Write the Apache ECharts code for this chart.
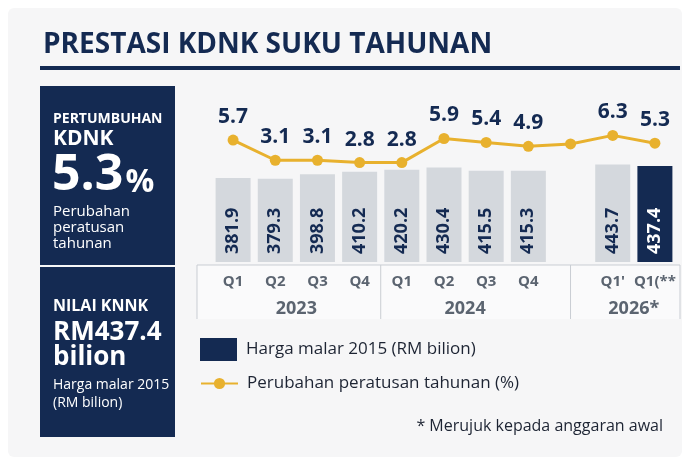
<!DOCTYPE html>
<html>
<head>
<meta charset="utf-8">
<script src="https://cdn.jsdelivr.net/npm/echarts@6/dist/echarts.min.js"></script>
<style>
html,body{margin:0;padding:0;background:#ffffff;}
#c{width:688px;height:463px;}
</style>
</head>
<body>
<div id="c"></div>
<script>
// ---- data ----
const quarters = ['Q1','Q2','Q3','Q4','Q1','Q2','Q3','Q4','',"Q1'",'Q1(**'];
const years = ['2023','2024','2026*'];
const yearSpans = [[0,3],[4,7],[9,10]];
const gdpValues = [381.9,379.3,398.8,410.2,420.2,430.4,415.5,415.3,null,443.7,437.4];
const growthValues = [5.7,3.1,3.1,2.8,2.8,5.9,5.4,4.9,5.2,6.3,5.3];
const growthLabelShown = [true,true,true,true,true,true,true,true,false,true,true];
const highlightIndex = 10;
const barName = 'Harga malar 2015 (RM bilion)';
const lineName = 'Perubahan peratusan tahunan (%)';

const NAVY = '#142a52';
const GRAY = '#d4d8dd';
const GOLD = '#e8b12e';
const AXISTXT = '#5b6470';
const FONT = 'Open Sans';

const chart = echarts.init(document.getElementById('c'));

const barData = gdpValues.map((v, i) => {
  if (v === null) return '-';
  const hi = i === highlightIndex;
  return {
    value: v,
    itemStyle: { color: hi ? NAVY : GRAY },
    label: { color: hi ? '#ffffff' : NAVY }
  };
});

chart.setOption({
  backgroundColor: '#ffffff',
  animation: false,
  title: {
    text: 'PRESTASI KDNK SUKU TAHUNAN',
    left: 38, top: 26,
    textStyle: { fontFamily: FONT, fontSize: 28, fontWeight: 'bold', color: NAVY }
  },
  grid: { left: 212, right: 12, top: 95, bottom: 201 },
  xAxis: {
    type: 'category',
    data: quarters,
    axisLine: { show: false },
    axisTick: { show: false },
    axisLabel: { interval: 0, margin: 12, fontFamily: FONT, fontSize: 15, fontWeight: 'bold', color: AXISTXT }
  },
  yAxis: [
    { type: 'value', min: 0, max: 760, show: false, splitLine: { show: false } },
    { type: 'value', min: -10, max: 11.5, show: false, splitLine: { show: false } }
  ],
  legend: [
    {
      data: [{ name: barName, itemStyle: { color: NAVY } }],
      left: 195, top: 333, itemWidth: 37, itemHeight: 23, icon: 'rect',
      selectedMode: false,
      textStyle: { fontFamily: FONT, fontSize: 17, color: '#1d2433', padding: [0, 0, 0, 4] }
    },
    {
      data: [lineName],
      left: 195, top: 370, itemWidth: 37, itemHeight: 14,
      selectedMode: false,
      textStyle: { fontFamily: FONT, fontSize: 17, color: '#1d2433', padding: [0, 0, 0, 4] }
    }
  ],
  series: [
    {
      name: barName,
      type: 'bar',
      data: barData,
      barWidth: 35,
      itemStyle: { color: GRAY },
      label: {
        show: true, position: 'insideBottom', rotate: 90, align: 'left', verticalAlign: 'middle',
        distance: 8, fontFamily: FONT, fontSize: 18, fontWeight: 'bold', color: NAVY
      }
    },
    {
      name: lineName,
      type: 'line',
      yAxisIndex: 1,
      data: growthValues,
      symbol: 'circle',
      symbolSize: 11,
      z: 5,
      lineStyle: { color: GOLD, width: 3 },
      itemStyle: { color: GOLD },
      label: {
        show: true, position: 'top', distance: 7,
        fontFamily: FONT, fontSize: 21, fontWeight: 'bold', color: NAVY,
        formatter: p => growthLabelShown[p.dataIndex] ? p.value.toFixed(1) : ''
      }
    }
  ]
});

// ---- decorations & panels ----
const px = i => chart.convertToPixel({ xAxisIndex: 0 }, i);
const bandTop = 265, bandBottom = 319, bandLeft = 197, bandRight = 680;
const sepXs = [bandLeft, (px(3) + px(4)) / 2, px(8), bandRight];

const g = [];
g.push({ type: 'rect', z: -10, shape: { x: 8, y: 8, width: 674, height: 449, r: 6 }, style: { fill: '#f6f6f7' } });
g.push({ type: 'rect', z: -9, shape: { x: bandLeft, y: bandTop, width: bandRight - bandLeft, height: bandBottom - bandTop }, style: { fill: '#fafafb' } });
g.push({ type: 'rect', shape: { x: 40, y: 66, width: 640, height: 4 }, style: { fill: NAVY } });
g.push({ type: 'line', shape: { x1: bandLeft, y1: bandTop, x2: bandRight, y2: bandTop }, style: { stroke: '#c9cdd3', lineWidth: 1 } });
sepXs.forEach(x => {
  g.push({ type: 'line', shape: { x1: x, y1: bandTop, x2: x, y2: bandBottom }, style: { stroke: '#c9cdd3', lineWidth: 1 } });
});
years.forEach((y, k) => {
  const cx = (px(yearSpans[k][0]) + px(yearSpans[k][1])) / 2;
  g.push({ type: 'text', x: cx, y: 309, style: { text: y, align: 'center', verticalAlign: 'middle', font: 'bold 18px "Open Sans"', fill: AXISTXT } });
});

// left panels
g.push({ type: 'rect', shape: { x: 40, y: 86, width: 135, height: 179 }, style: { fill: NAVY } });
g.push({ type: 'rect', shape: { x: 40, y: 267, width: 135, height: 170 }, style: { fill: NAVY } });
const t = (text, x, y, font) => ({ type: 'text', x: x, y: y, style: { text: text, align: 'left', verticalAlign: 'middle', font: font, fill: '#ffffff' } });
g.push(t('PERTUMBUHAN', 53, 119, 'bold 14px "Open Sans"'));
g.push(t('KDNK', 53, 139, 'bold 21px "Open Sans"'));
g.push({ type: 'text', x: 52, y: 176, style: { text: '{a|5.3}{b|%}', align: 'left', verticalAlign: 'middle',
  rich: { a: { font: 'bold 50px "Open Sans"', fill: '#ffffff', verticalAlign: 'bottom' }, b: { font: 'bold 32px "Open Sans"', fill: '#ffffff', verticalAlign: 'bottom', padding: [0,0,2,2] } } } });
g.push(t('Perubahan', 53, 212, '15px "Open Sans"'));
g.push(t('peratusan', 53, 228, '15px "Open Sans"'));
g.push(t('tahunan', 53, 244, '15px "Open Sans"'));
g.push(t('NILAI KNNK', 53, 306, 'bold 16px "Open Sans"'));
g.push(t('RM437.4', 53, 333, 'bold 26px "Open Sans"'));
g.push(t('bilion', 53, 358, 'bold 26px "Open Sans"'));
g.push(t('Harga malar 2015', 53, 385, '14px "Open Sans"'));
g.push(t('(RM bilion)', 53, 403, '14px "Open Sans"'));

// footnote
g.push({ type: 'text', x: 663, y: 426, style: { text: '* Merujuk kepada anggaran awal', align: 'right', verticalAlign: 'middle', font: '16px "Open Sans"', fill: '#1d2433' } });

chart.setOption({ graphic: g });
</script>
</body>
</html>
